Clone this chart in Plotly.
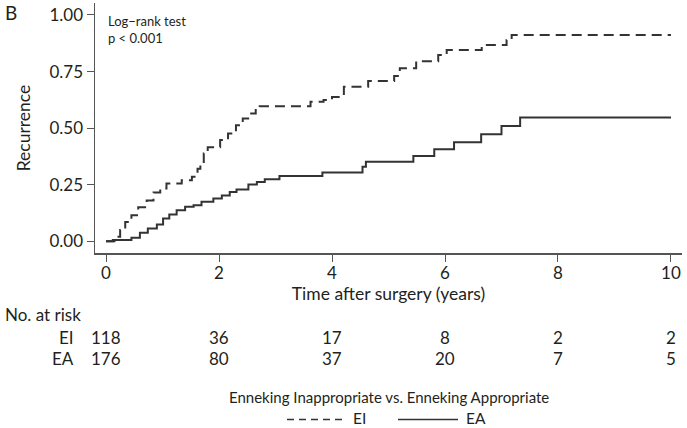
import plotly.graph_objects as go

# ---------------- data ----------------
ei_time = [0, 0.15, 0.25, 0.34, 0.45, 0.57, 0.72, 0.84, 0.96, 1.07, 1.34, 1.52, 1.62, 1.67,
           1.73, 1.8, 2.02, 2.16, 2.3, 2.42, 2.55, 2.65, 2.72, 3.62, 3.85, 4.0, 4.21, 4.64,
           5.1, 5.2, 5.49, 5.88, 6.03, 6.65, 7.09, 7.18, 10]
ei_recur = [0, 0.02, 0.05, 0.085, 0.115, 0.15, 0.18, 0.215, 0.233, 0.255, 0.27, 0.285, 0.32,
            0.345, 0.388, 0.415, 0.447, 0.476, 0.513, 0.543, 0.565, 0.587, 0.597, 0.616,
            0.624, 0.638, 0.683, 0.708, 0.73, 0.765, 0.796, 0.823, 0.845, 0.867, 0.89,
            0.912, 0.912]

ea_time = [0, 0.12, 0.45, 0.6, 0.74, 0.9, 1.01, 1.12, 1.25, 1.4, 1.55, 1.69, 1.9, 2.05, 2.19,
           2.31, 2.52, 2.67, 2.81, 3.07, 3.83, 4.54, 4.6, 5.44, 5.81, 6.16, 6.64, 7.0, 7.33, 10]
ea_recur = [0, 0.005, 0.015, 0.037, 0.056, 0.074, 0.1, 0.118, 0.137, 0.152, 0.159, 0.174,
            0.189, 0.202, 0.218, 0.229, 0.251, 0.262, 0.274, 0.288, 0.304, 0.329, 0.351,
            0.377, 0.407, 0.438, 0.473, 0.509, 0.547, 0.547]

risk_times = [0, 2, 4, 6, 8, 10]
risk_ei = [118, 36, 17, 8, 2, 2]
risk_ea = [176, 80, 37, 20, 7, 5]
group_labels = ["EI", "EA"]

y_ticks = [0, 0.25, 0.5, 0.75, 1.0]
x_ticks = [0, 2, 4, 6, 8, 10]

# ---------------- layout helpers ----------------
W, H = 687, 428
L, R, T, B = 95, 682, 3, 252.7
FONT = "Lato"
TXT = "#231f20"
LINE = "#333333"
AX = "#555555"


def px2x(px):
    return (px - L) / (R - L)


def py2y(py):
    return (B - py) / (B - T)


fig = go.Figure()
fig.add_trace(go.Scatter(x=ei_time, y=ei_recur, mode="lines", line_shape="hv",
                         line=dict(color=LINE, width=2, dash="10px,6px"), name="EI",
                         showlegend=False, hoverinfo="skip"))
fig.add_trace(go.Scatter(x=ea_time, y=ea_recur, mode="lines", line_shape="hv",
                         line=dict(color=LINE, width=2), name="EA", showlegend=False,
                         hoverinfo="skip"))

annotations = []
# panel letter
annotations.append(dict(text="B", xref="paper", yref="paper", x=px2x(3), y=py2y(12),
                        xanchor="left", yanchor="middle", showarrow=False,
                        font=dict(size=19, color=TXT, family=FONT)))
# log-rank text
annotations.append(dict(text="Log\u2212rank test<br>p < 0.001", xref="paper", yref="paper",
                        x=px2x(106), y=py2y(11), xanchor="left", yanchor="top", align="left",
                        showarrow=False, font=dict(size=13, color=TXT, family=FONT)))
# risk table
RISK_FS = 17
annotations.append(dict(text="No. at risk", xref="paper", yref="paper", x=px2x(3),
                        y=py2y(314), xanchor="left", yanchor="middle", showarrow=False,
                        font=dict(size=RISK_FS, color=TXT, family=FONT)))
for lab, vals, py in [(group_labels[0], risk_ei, 337), (group_labels[1], risk_ea, 358)]:
    annotations.append(dict(text=lab, xref="paper", yref="paper", x=px2x(76), y=py2y(py),
                            xanchor="right", yanchor="middle", showarrow=False,
                            font=dict(size=RISK_FS, color=TXT, family=FONT)))
    for t, v in zip(risk_times, vals):
        annotations.append(dict(text=str(v), xref="x", yref="paper", x=t, y=py2y(py),
                                xanchor="center", yanchor="middle", showarrow=False,
                                font=dict(size=RISK_FS, color=TXT, family=FONT)))
# legend title
annotations.append(dict(text="Enneking Inappropriate vs. Enneking Appropriate", xref="paper",
                        yref="paper", x=px2x(389), y=py2y(397), xanchor="center",
                        yanchor="middle", showarrow=False,
                        font=dict(size=15, color=TXT, family=FONT)))
annotations.append(dict(text=group_labels[0], xref="paper", yref="paper", x=px2x(351),
                        y=py2y(418), xanchor="left", yanchor="middle", showarrow=False,
                        font=dict(size=15.5, color=TXT, family=FONT)))
annotations.append(dict(text=group_labels[1], xref="paper", yref="paper", x=px2x(464),
                        y=py2y(418), xanchor="left", yanchor="middle", showarrow=False,
                        font=dict(size=15.5, color=TXT, family=FONT)))

shapes = [
    dict(type="line", xref="paper", yref="paper", x0=px2x(287), x1=px2x(344),
         y0=py2y(419), y1=py2y(419), line=dict(color=LINE, width=1.6, dash="7px,5px")),
    dict(type="line", xref="paper", yref="paper", x0=px2x(398), x1=px2x(458),
         y0=py2y(419), y1=py2y(419), line=dict(color=LINE, width=1.6)),
]

fig.update_layout(
    template="none",
    width=W, height=H,
    margin=dict(l=L, r=W - R, t=T, b=H - B, pad=0, autoexpand=False),
    paper_bgcolor="white", plot_bgcolor="white",
    font=dict(family=FONT, size=15, color=TXT),
    annotations=annotations, shapes=shapes,
    showlegend=False, hovermode=False,
    xaxis=dict(range=[-0.195, 10.195], tickvals=x_ticks, ticks="outside", ticklen=7,
               tickcolor=AX, showline=True, linecolor=AX, linewidth=1.5,
               showgrid=False, zeroline=False, automargin=False, ticklabelstandoff=-3,
               title=dict(text="Time after surgery (years)", standoff=0,
                          font=dict(size=17.5, color=TXT)),
               tickfont=dict(size=17, color=TXT)),
    yaxis=dict(range=[-0.052, 1.053], tickvals=y_ticks, tickformat=".2f", ticks="outside",
               ticklen=7, tickcolor=AX, showline=True, linecolor=AX,
               linewidth=1.5, showgrid=False, zeroline=False, automargin=False,
               title=dict(text="Recurrence", standoff=14, font=dict(size=17.5, color=TXT)),
               tickfont=dict(size=17, color=TXT)),
)

fig.write_html("out.html", config={"displayModeBar": False, "staticPlot": True},
               post_script="document.body.style.margin='0';document.body.style.overflow='hidden';")
